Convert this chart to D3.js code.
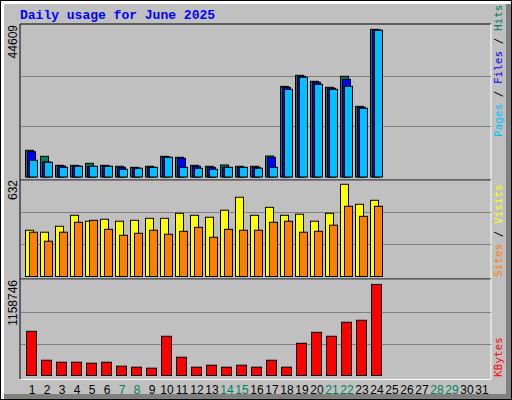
<!DOCTYPE html>
<html>
<head>
<meta charset="utf-8">
<script src="https://cdn.jsdelivr.net/npm/d3@7"></script>
<style>
  body { margin: 0; background: #fff; }
  svg text { font-family: "Liberation Sans", sans-serif; }
</style>
</head>
<body>
<div id="chart"></div>
<script>
// day numbers and values (days 26-31 not yet reached)
const days = d3.range(1, 32);
const weekendDays = [7, 8, 14, 15, 21, 22, 28, 29];
const hits   = [7830, 6070, 3430, 3430, 4020, 3430, 3140, 2840, 3140, 6070, 5780, 3430, 3140, 3520, 3140, 3140, 6160, 26600, 29840, 28080, 26320, 29550, 20740, 43340, 0];
const files  = [7420, 4400, 3230, 3230, 3140, 3230, 2840, 2640, 2840, 5870, 5490, 3140, 2840, 2840, 2840, 2840, 5780, 26300, 29550, 27790, 26030, 28670, 20450, 43200, 0];
const pages  = [4900, 4310, 2840, 3140, 3140, 3140, 2260, 2550, 2840, 5780, 2840, 2550, 2260, 2840, 2840, 2550, 2840, 25720, 29260, 27200, 25730, 26620, 20160, 43050, 0];
const visits = [303, 290, 329, 401, 362, 375, 362, 368, 381, 381, 414, 401, 388, 434, 519, 401, 453, 401, 408, 362, 414, 604, 473, 499, 0];
const sites  = [290, 231, 290, 355, 368, 309, 270, 283, 303, 277, 296, 322, 257, 309, 303, 303, 355, 362, 290, 296, 336, 460, 394, 460, 0];
const kbytes = [536000, 185000, 161000, 161000, 149000, 161000, 113000, 101000, 89000, 476000, 222000, 101000, 125000, 101000, 125000, 101000, 185000, 101000, 391000, 524000, 476000, 646000, 670000, 1105000, 0];
const maxHits = 44609, maxVisits = 632, maxKbytes = 1158746;

const W = 512, H = 400;
const svg = d3.select("#chart").append("svg").attr("width", W).attr("height", H);

// frame
svg.append("rect").attr("x", 0).attr("y", 0).attr("width", W).attr("height", H).attr("fill", "#000");
svg.append("rect").attr("x", 1).attr("y", 1).attr("width", W - 2).attr("height", H - 2).attr("fill", "#fff");
svg.append("rect").attr("x", 4).attr("y", 4).attr("width", W - 5).attr("height", H - 5).attr("fill", "#808080");
svg.append("rect").attr("x", 4).attr("y", 4).attr("width", W - 10).attr("height", H - 10).attr("fill", "#c0c0c0");

svg.append("text").attr("x", 20).attr("y", 19)
  .style("font-family", "'Liberation Mono', monospace").style("font-weight", "bold")
  .attr("font-size", 13).attr("fill", "#0000ff").text("Daily usage for June 2025");

const x = d3.scaleLinear().domain([1, 32]).range([25, 25 + 31 * 15]);
const plotL = 20, plotR = 491;

const panels = [
  { top: 25, base: 177, box: [24, 180], max: maxHits, label: "44609",
    series: [{ v: hits, c: "#00805c", o: 0, w: 8 }, { v: files, c: "#0000ff", o: 2, w: 8 }, { v: pages, c: "#00c0ff", o: 4, w: 8 }],
    legend: [["Pages", "#00c0ff"], [" / ", "#000"], ["Files", "#0000ff"], [" / ", "#000"], ["Hits", "#00805c"]], ly: 137 },
  { top: 180, base: 276.5, box: [180, 279], max: maxVisits, label: "632",
    series: [{ v: visits, c: "#ffff00", o: 0, w: 8 }, { v: sites, c: "#ff8000", o: 4, w: 8 }],
    legend: [["Sites", "#ff8000"], [" / ", "#000"], ["Visits", "#ffff00"]], ly: 277 },
  { top: 280, base: 375.5, box: [279, 379], max: maxKbytes, label: "1158746",
    series: [{ v: kbytes, c: "#ff0000", o: 1, w: 10 }],
    legend: [["KBytes", "#ff0000"]], ly: 377 }
];

panels.forEach(p => {
  const y = d3.scaleLinear().domain([0, p.max]).range([p.base, p.top]);
  const g = svg.append("g");
  // box edges
  g.append("line").attr("x1", plotL).attr("x2", plotR).attr("y1", p.box[0]).attr("y2", p.box[0]).attr("stroke", "#000");
  g.append("line").attr("x1", plotL).attr("x2", plotL).attr("y1", p.box[0]).attr("y2", p.box[1]).attr("stroke", "#000");
  g.append("line").attr("x1", plotL).attr("x2", plotR).attr("y1", p.box[1] + 0.5).attr("y2", p.box[1] + 0.5).attr("stroke", "#fff");
  g.append("line").attr("x1", plotR).attr("x2", plotR).attr("y1", p.box[0]).attr("y2", p.box[1]).attr("stroke", "#fff");
  // grid
  [p.max / 3, p.max * 2 / 3].forEach(t => {
    g.append("line").attr("x1", plotL + 1).attr("x2", plotR).attr("y1", Math.round(y(t)) + 0.5).attr("y2", Math.round(y(t)) + 0.5)
      .attr("stroke", "#808080");
  });
  p.series.forEach(s => {
    g.selectAll(null).data(s.v).enter().append("rect")
      .attr("x", (d, i) => x(days[i]) + s.o + 0.5)
      .attr("y", d => y(d))
      .attr("width", s.w)
      .attr("height", d => p.base - y(d))
      .attr("fill", s.c).attr("stroke", "#000").attr("stroke-width", 1);
  });
  // left max label
  svg.append("text").attr("transform", `translate(17,${p.top}) rotate(-90)`)
    .attr("text-anchor", "end").attr("font-size", 12).attr("fill", "#000").text(p.label);
  // right legend
  const t = svg.append("text").attr("transform", `translate(502,${p.ly}) rotate(-90)`)
    .style("font-family", "'DejaVu Sans Mono', monospace").attr("font-size", 11);
  p.legend.forEach(([s, c]) => t.append("tspan").attr("fill", c).text(s));
});

// bottom axis line and day labels
svg.append("line").attr("x1", plotL).attr("x2", plotR).attr("y1", 379.5).attr("y2", 379.5).attr("stroke", "#fff");
svg.selectAll(".day").data(days).enter().append("text")
  .attr("x", d => x(d) + 7).attr("y", 394).attr("text-anchor", "middle").attr("font-size", 12)
  .attr("fill", d => weekendDays.includes(d) ? "#00805c" : "#000").text(d => d);
</script>
</body>
</html>
